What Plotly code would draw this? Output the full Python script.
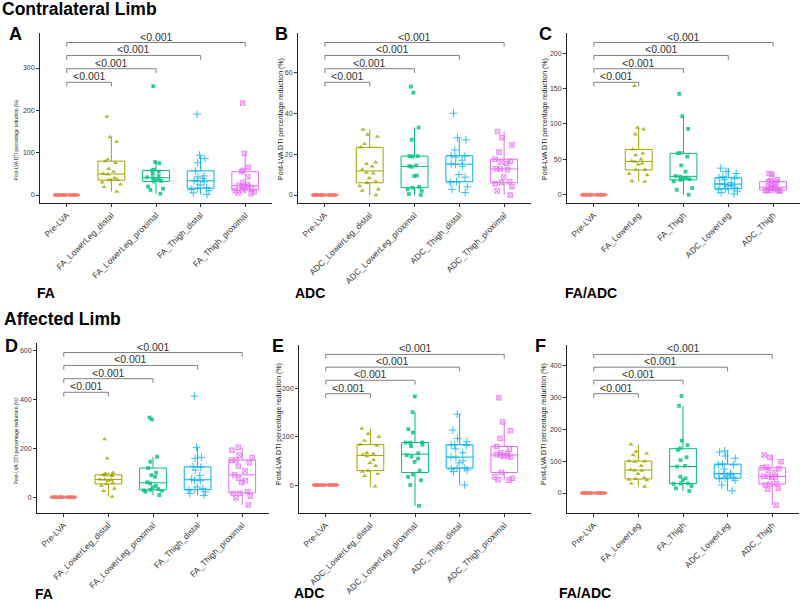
import plotly.graph_objects as go

# ---------------- data ----------------
CATS_FA = ["Pre-LVA", "FA_LowerLeg_distal", "FA_LowerLeg_proximal", "FA_Thigh_distal", "FA_Thigh_proximal"]
CATS_ADC = ["Pre-LVA", "ADC_LowerLeg_distal", "ADC_LowerLeg_proximal", "ADC_Thigh_distal", "ADC_Thigh_proximal"]
CATS_RATIO = ["Pre-LVA", "FA_LowerLeg", "FA_Thigh", "ADC_LowerLeg", "ADC_Thigh"]

PRE = [0, 0, 0, 0, 0, 0, 0, 0, 0, 0, 0, 0, 0, 0, 0, 0, 0, 0]

# Contralateral limb, FA
A2 = [185, 137, 126, 84, 80, 76, 62, 55, 50, 49, 40, 36, 35, 30, 25, 19, 8, 36]
A3 = [257, 78, 75, 60, 58, 55, 50, 45, 42, 40, 38, 35, 33, 32, 20, 15, 12, 3]
A4 = [191, 94, 86, 76, 57, 45, 43, 39, 34, 33, 31, 24, 18, 16, 13, 10, 5, 1]
A5 = [217, 98, 65, 58, 55, 43, 30, 25, 23, 21, 20, 18, 15, 12, 10, 8, 5, 3]
# Contralateral limb, ADC
B2 = [32, 29.5, 28.5, 25, 23.3, 16, 15.2, 14, 12.5, 11, 10.6, 8.3, 6.5, 6, 4.4, 2.8, 2.1, 0]
B3 = [53, 50, 33, 27, 19, 19, 18.8, 14.5, 14.2, 13.8, 9.5, 9.3, 4, 3.6, 2.8, 2, 0.5, 0]
B4 = [40, 28, 27, 22, 19.2, 19, 18.5, 17, 15.2, 15, 14, 10, 8.7, 6.5, 6, 4, 2.8, 1.2]
B5 = [31, 28, 24.5, 21, 17.5, 16.5, 16, 15.5, 12.7, 12.8, 12.3, 8.8, 6.5, 6, 5.5, 4, 2, 0]
# Contralateral limb, FA/ADC
C2 = [154, 95, 92.5, 85.4, 64, 58.5, 56, 50, 47.5, 46.7, 44.3, 43, 35.5, 35, 30, 27.8, 19.3, 18.4]
C3 = [142.6, 111, 93, 59, 58.5, 54, 41.4, 32.5, 26.5, 25.5, 24, 23, 22, 21, 19, 9.4, 7, 0]
C4 = [37.6, 33, 30, 26, 24, 22.5, 21, 17, 15.5, 14.5, 13, 12, 10.8, 8.5, 7, 5, 3, 1]
C5 = [30, 29, 21, 20, 18.5, 17.5, 16, 14, 10.8, 10.2, 10, 9, 6.8, 6.2, 6.5, 6, 5.5, 5]
# Affected limb, FA
D2 = [238, 160, 101, 98, 91, 90, 92, 88, 74, 73, 72, 68, 60, 55, 48, 36, 27, 3]
D3 = [327, 319, 166, 146, 120, 101, 91, 84, 62, 57, 47, 41, 34, 31, 29, 27, 23, 9]
D4 = [414, 205, 164, 160, 125, 123, 112, 90, 74, 70, 68, 43, 37, 32, 30, 23, 16, 8]
D5 = [205, 193, 173, 162, 153, 152, 142, 128, 108, 92, 78, 68, 60, 23, 17, 16, 5, -2, -31]
# Affected limb, ADC
E2 = [117, 106, 100, 92, 84, 82, 67, 65, 63, 60, 52, 46, 40, 30, 28, 23, 19, -3]
E3 = [184, 151, 116, 109, 88.5, 88, 88, 84, 81, 66, 62, 59, 55, 48, 30, 22, 17, 10, 0, -43]
E4 = [147, 114, 97, 90, 83, 82, 84, 75, 67, 58, 57, 50, 46, 35.5, 35, 33, 31, 28, 0]
E5 = [181, 131, 113, 97, 80, 75, 67, 65, 63, 62, 61, 60, 58, 26, 17, 14, 11, 10]
# Affected limb, FA/ADC
F2 = [152, 130, 124, 119, 100, 99, 98, 85, 73, 71, 70, 60, 48, 44, 42, 40, 30, 20]
F3 = [304, 273, 164, 150, 140, 135, 112, 103, 85, 83, 51, 46, 40, 30, 29.5, 29, 22, 15, 6]
F4 = [132, 128, 116, 109, 91, 88.5, 88, 75, 62, 60.5, 60, 57, 53, 49, 46, 44, 40, 25, 7]
F5 = [119, 112, 98, 81, 79, 76, 70, 64, 50, 51.5, 52, 49, 28, 30, 25, 15, 12, -38]

P_LABEL = "<0.001"
Y_TITLE = "Post-LVA DTI percentage reduction (%)"

# ---------------- styling ----------------
W, H = 800, 602
FONT = "Liberation Sans, Arial, Helvetica, sans-serif"
COLORS = ["#F8766D", "#A3A500", "#00BF7D", "#00B0F6", "#E76BF3"]
SYMBOLS = ["circle", "triangle-up", "square", "cross-thin", "square-x-open"]
MSIZE = [4, 4.5, 3.8, 5.5, 4.5]

panels = [
    dict(cats=CATS_FA, data=[PRE, A2, A3, A4, A5], box=(40, 272, 33, 203), yr=(-18.9, 382.7),
         ticks=[0, 100, 200, 300], letter="A", lpos=(15.5, 34), ytx=16, yfs=4.6, ybot=182,
         sub="FA", spos=(35, 293)),
    dict(cats=CATS_ADC, data=[PRE, B2, B3, B4, B5], box=(298, 531, 33, 203), yr=(-3.9, 79.2),
         ticks=[0, 20, 40, 60], letter="B", lpos=(281, 34), ytx=281, yfs=7, ybot=182,
         sub="ADC", spos=(293, 293)),
    dict(cats=CATS_RATIO, data=[PRE, C2, C3, C4, C5], box=(567, 800, 33, 203), yr=(-11.7, 228.6),
         ticks=[0, 50, 100, 150, 200], letter="C", lpos=(545, 34), ytx=545, yfs=7, ybot=182,
         sub="FA/ADC", spos=(563, 293)),
    dict(cats=CATS_FA, data=[PRE, D2, D3, D4, D5], box=(37, 269, 343, 513), yr=(-64, 632),
         ticks=[0, 200, 400, 600], letter="D", lpos=(11, 346), ytx=15, yfs=5, ybot=487,
         sub="FA", spos=(33, 594)),
    dict(cats=CATS_ADC, data=[PRE, E2, E3, E4, E5], box=(299, 531, 345, 513), yr=(-58, 290.6),
         ticks=[0, 100, 200], letter="E", lpos=(277.5, 346), ytx=279, yfs=7, ybot=487,
         sub="ADC", spos=(292, 593)),
    dict(cats=CATS_RATIO, data=[PRE, F2, F3, F4, F5], box=(567, 799, 345, 513), yr=(-62.6, 463.5),
         ticks=[0, 100, 200, 300, 400], letter="F", lpos=(540, 346), ytx=544, yfs=7, ybot=487,
         sub="FA/ADC", spos=(557, 593)),
]

BRACKET_FRAC = [0.71, 0.79, 0.868, 0.944]
DROP_FRAC = 0.025

fig = go.Figure()
layout = dict(width=W, height=H, margin=dict(l=0, r=0, t=0, b=0), autosize=False,
              paper_bgcolor="white", plot_bgcolor="white", showlegend=False,
              font=dict(family=FONT, color="#333333"), boxmode="overlay")
shapes, annotations = [], []


def px2x(p):
    return p / W


def py2y(p):
    return 1 - p / H


for i, p in enumerate(panels, start=1):
    xn = "x" if i == 1 else f"x{i}"
    yn = "y" if i == 1 else f"y{i}"
    x0, x1, yt, yb = p["box"]
    layout["xaxis" if i == 1 else f"xaxis{i}"] = dict(
        domain=[px2x(x0), px2x(x1)], anchor=yn, type="category",
        categoryorder="array", categoryarray=p["cats"], range=[-0.6, 4.6],
        showline=True, linecolor="#222222", linewidth=1, ticks="outside", ticklen=3,
        tickcolor="#333333", tickangle=-45, tickfont=dict(size=8.5, color="#3a3a3a"),
        showgrid=False, zeroline=False, fixedrange=True)
    layout["yaxis" if i == 1 else f"yaxis{i}"] = dict(
        domain=[py2y(yb), py2y(yt)], anchor=xn, range=list(p["yr"]),
        tickvals=p["ticks"], showline=True, linecolor="#222222", linewidth=1,
        ticks="outside", ticklen=3, tickcolor="#333333",
        tickfont=dict(size=7, color="#3a3a3a"), showgrid=False, zeroline=False)

    for k, (cat, vals) in enumerate(zip(p["cats"], p["data"])):
        col = COLORS[k]
        fig.add_trace(go.Box(
            x=[cat] * len(vals), y=vals, xaxis=xn, yaxis=yn, name=cat,
            boxpoints="all", jitter=0.9, pointpos=0, width=0.6, whiskerwidth=0,
            line=dict(color=col, width=1), fillcolor="rgba(0,0,0,0)",
            marker=dict(symbol=SYMBOLS[k], size=MSIZE[k], color=col, opacity=0.8,
                        line=dict(color=col, width=1 if k >= 3 else 0)),
            hoverinfo="skip", showlegend=False))

    # significance brackets
    r0, r1 = p["yr"]
    span = r1 - r0
    for j, frac in enumerate(BRACKET_FRAC, start=1):
        yv = r0 + frac * span
        yd = yv - DROP_FRAC * span
        lc = dict(color="#808080", width=1)
        shapes.append(dict(type="line", xref=xn, yref=yn, x0=0, x1=j, y0=yv, y1=yv, line=lc))
        shapes.append(dict(type="line", xref=xn, yref=yn, x0=0, x1=0, y0=yv, y1=yd, line=lc))
        shapes.append(dict(type="line", xref=xn, yref=yn, x0=j, x1=j, y0=yv, y1=yd, line=lc))
        annotations.append(dict(xref=xn, yref=yn, x=j / 2, y=yv, text=P_LABEL, showarrow=False,
                                xanchor="center", yanchor="bottom", yshift=-2,
                                font=dict(size=10.5, color="#333333")))

    # panel letter
    annotations.append(dict(xref="paper", yref="paper", x=px2x(p["lpos"][0]), y=py2y(p["lpos"][1]),
                            text=f"<b>{p['letter']}</b>", showarrow=False, xanchor="center",
                            yanchor="middle", font=dict(size=18, color="black")))
    # y title
    annotations.append(dict(xref="paper", yref="paper", x=px2x(p["ytx"]), y=py2y(p["ybot"]),
                            text=Y_TITLE, textangle=-90, showarrow=False, xanchor="center",
                            yanchor="bottom", font=dict(size=p["yfs"], color="#222222")))
    # sub label
    annotations.append(dict(xref="paper", yref="paper", x=px2x(p["spos"][0]), y=py2y(p["spos"][1]),
                            text=f"<b>{p['sub']}</b>", showarrow=False, xanchor="left",
                            yanchor="middle", font=dict(size=14, color="black")))

annotations.append(dict(xref="paper", yref="paper", x=0, y=py2y(9.5), text="<b>Contralateral Limb</b>",
                        showarrow=False, xanchor="left", yanchor="middle",
                        font=dict(size=17.5, color="black")))
annotations.append(dict(xref="paper", yref="paper", x=px2x(2), y=py2y(318.5), text="<b>Affected Limb</b>",
                        showarrow=False, xanchor="left", yanchor="middle",
                        font=dict(size=17.5, color="black")))

layout["shapes"] = shapes
layout["annotations"] = annotations
fig.update_layout(**layout)
fig.write_html("out.html", config={"displayModeBar": False, "staticPlot": True},
               post_script="document.body.style.margin='0';document.body.style.overflow='hidden';")
